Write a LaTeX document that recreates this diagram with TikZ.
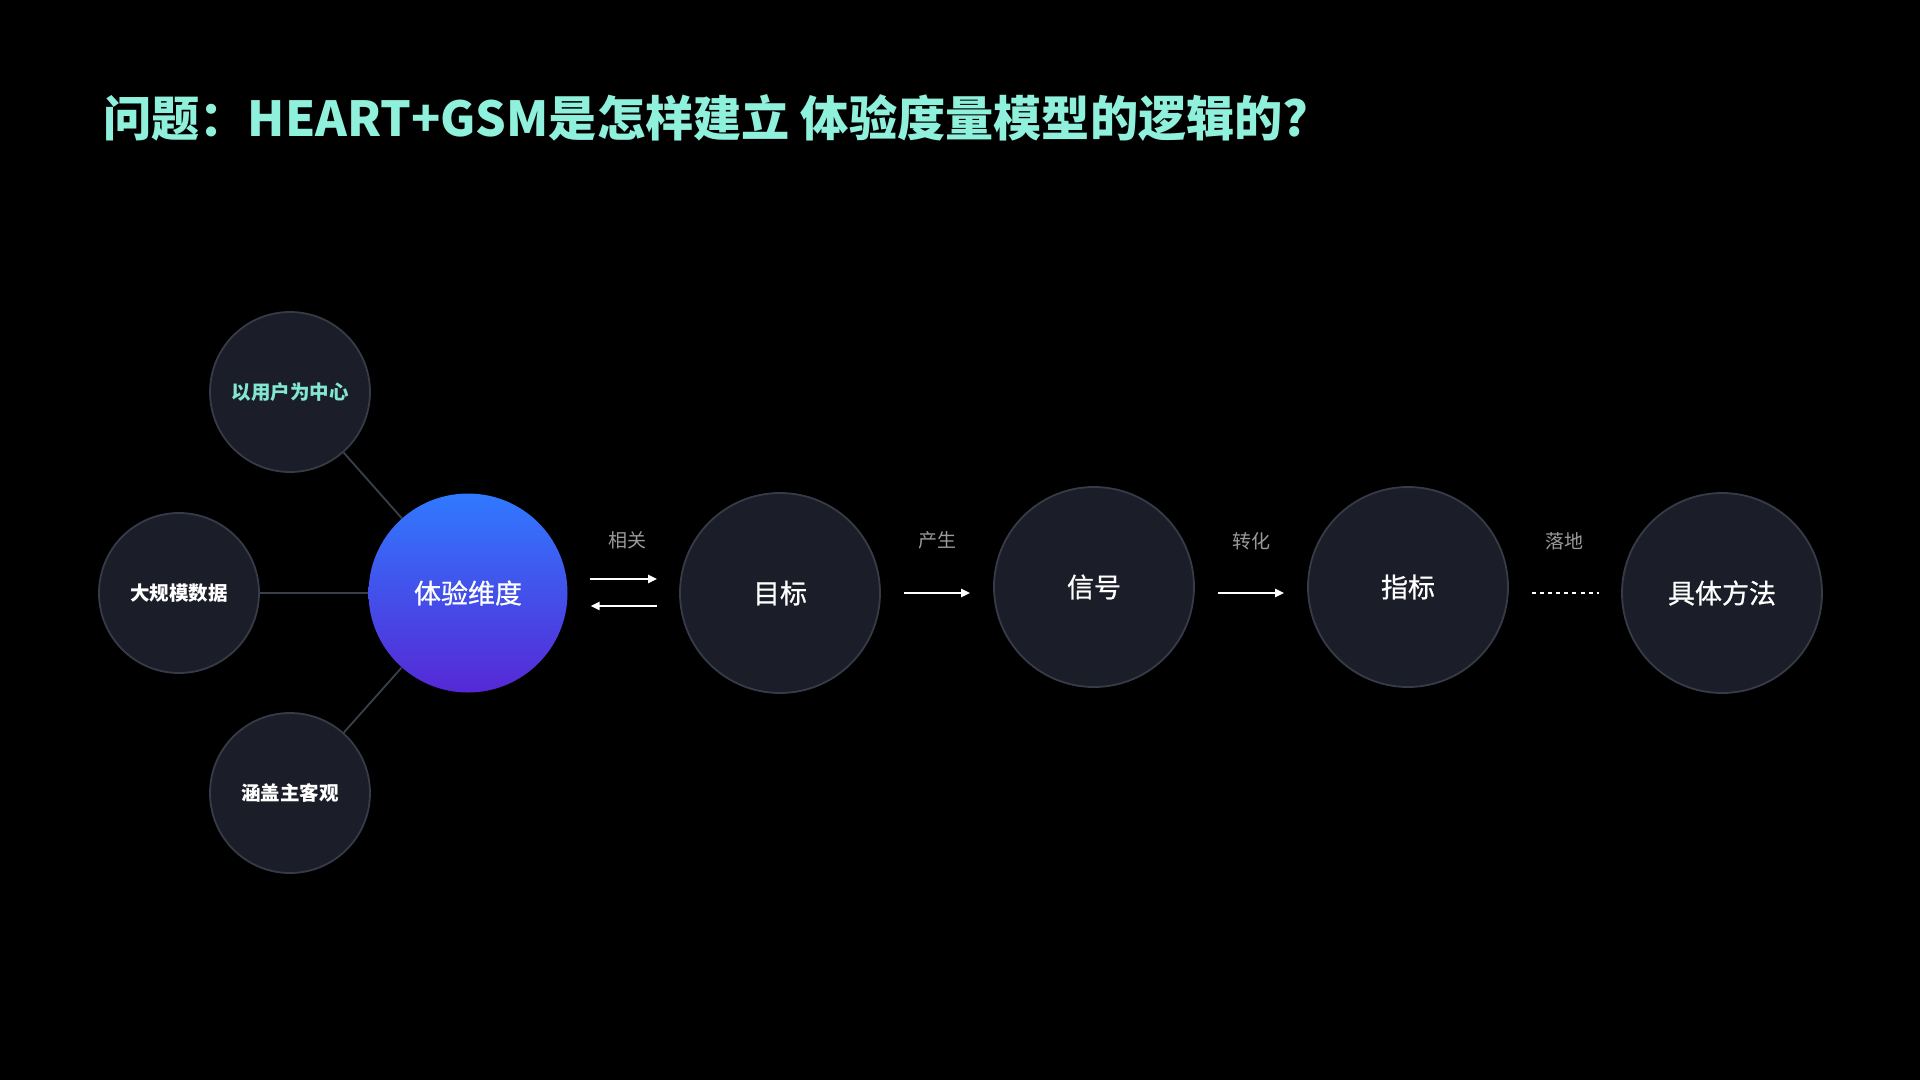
\documentclass[tikz,border=0pt]{standalone}
\usepackage{fontspec}
\setmainfont{Noto Sans CJK SC}
\newfontfamily\cjk{Noto Sans CJK SC}
\newfontfamily\cjkmed[FakeBold=0.7]{Noto Sans CJK SC}
\usetikzlibrary{arrows.meta,calc}
\definecolor{bgc}{HTML}{000000}
\definecolor{titlec}{HTML}{8FF0DC}
\definecolor{accentc}{HTML}{82E6D2}
\definecolor{circfill}{HTML}{1B1E28}
\definecolor{circedge}{HTML}{353B47}
\definecolor{connc}{HTML}{3A404B}
\definecolor{labelc}{HTML}{9A9A9A}
\definecolor{gradtop}{HTML}{3079FF}
\definecolor{gradbot}{HTML}{5628D6}
\tikzset{
  bigc/.style={circle, inner sep=0pt, minimum size=200pt, fill=circfill, draw=circedge, line width=1.8pt, text=white, font=\cjkmed\fontsize{27}{30}\selectfont},
  smallc/.style={circle, inner sep=0pt, minimum size=160pt, fill=circfill, draw=circedge, line width=1.8pt, text=white, font=\cjk\bfseries\fontsize{19.5}{22}\selectfont},
  dimc/.style={circle, inner sep=0pt, minimum size=199pt, top color=gradtop, bottom color=gradbot, text=white, font=\cjkmed\fontsize{27}{30}\selectfont},
  conn/.style={draw=connc, line width=1.8pt},
  flow/.style={draw=white, line width=2.4pt, -{Triangle[length=9pt,width=8pt]}},
  dotline/.style={draw=white, line width=2.4pt, dash pattern=on 4pt off 4.1pt},
  lbl/.style={text=labelc, inner sep=0pt, font=\cjk\fontsize{19}{22}\selectfont},
}
\begin{document}
\begin{tikzpicture}[x=1pt,y=-1pt]
\fill[bgc] (0,0) rectangle (1920,1080);
\useasboundingbox (0,0) rectangle (1920,1080);

\node[anchor=west, inner sep=0pt, text=titlec, font=\cjk\bfseries\fontsize{48.2}{52}\selectfont] (title) at (103,118) {问题：HEART+GSM是怎样建立 体验度量模型的逻辑的?};

% satellite circles
\node[smallc, text=accentc] (user) at (290,392) {以用户为中心};
\node[smallc] (data) at (179,593) {大规模数据};
\node[smallc] (cover) at (290,793) {涵盖主客观};

% main chain
\node[dimc] (dim) at (468,593) {体验维度};
\node[bigc] (goal) at (780,593) {目标};
\node[bigc] (signal) at (1094,587) {信号};
\node[bigc] (index) at (1408,587) {指标};
\node[bigc] (method) at (1722,593) {具体方法};

% connectors to dimension
\draw[conn] (user) -- (dim);
\draw[conn] (data) -- (dim);
\draw[conn] (cover) -- (dim);

% flow arrows
\draw[flow, shorten <=22pt, shorten >=22pt] ([yshift=14pt]dim.east) -- ([yshift=14pt]goal.west);
\draw[flow, shorten <=22pt, shorten >=23pt] ([yshift=-13pt]goal.west) -- ([yshift=-13pt]dim.east);
\draw[flow, shorten <=23pt, shorten >=23pt] (goal.east) -- (goal.east -| signal.west);
\draw[flow, shorten <=23pt, shorten >=23pt] (signal.east |- method.west) -- (index.west |- method.west);
\draw[dotline, shorten <=23pt, shorten >=22pt] (index.east |- method.west) -- (method.west);

% labels
\node[lbl] (l1) at (627,540) {相关};
\node[lbl] (l2) at (937,540) {产生};
\node[lbl] (l3) at (1251,541) {转化};
\node[lbl] (l4) at (1564,541) {落地};
\end{tikzpicture}
\end{document}
